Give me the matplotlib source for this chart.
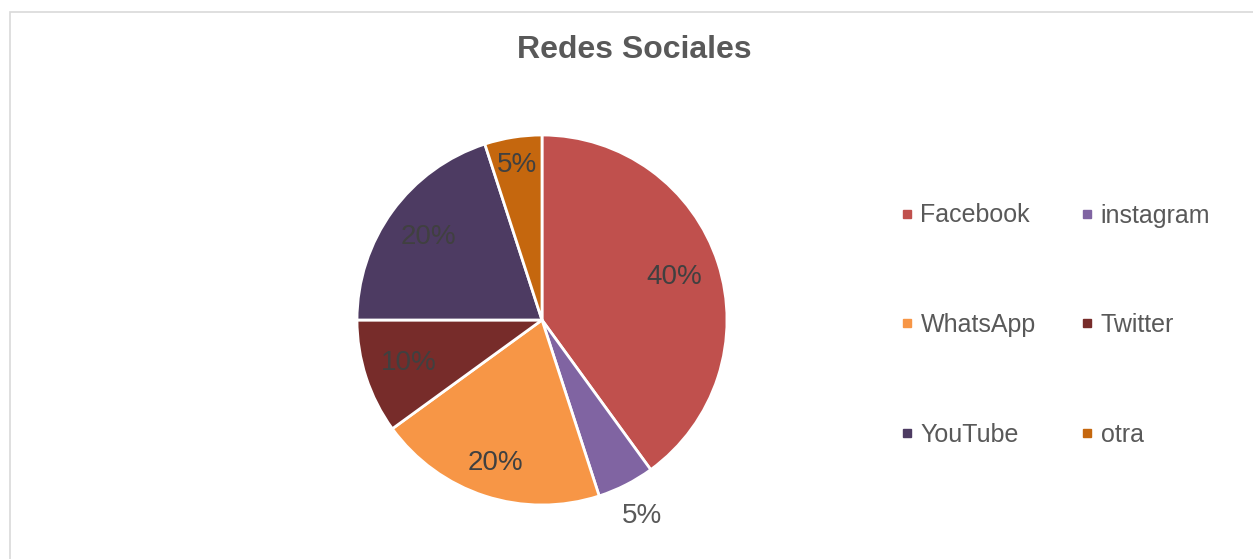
import numpy as np
import matplotlib.pyplot as plt
from matplotlib.lines import Line2D
from matplotlib.patches import Rectangle

plt.rcParams['font.family'] = ['Liberation Sans', 'DejaVu Sans']

# datos
redes = ['Facebook', 'instagram', 'WhatsApp', 'Twitter', 'YouTube', 'otra']
porcentajes = [40, 5, 20, 10, 20, 5]
colores = ['#C0504D', '#8064A2', '#F79646', '#772C2A', '#4D3B62', '#C5670E']

W, H = 1253, 559
fig = plt.figure(figsize=(W / 100, H / 100), dpi=100)

# marco del grafico
fig.patches.append(Rectangle((10 / W, -0.05), 1.05, 1 - 12 / H + 0.05,
                             transform=fig.transFigure, fill=False,
                             edgecolor='#D9D9D9', linewidth=1.2))

fig.text(634 / W, 1 - 50 / H, 'Redes Sociales', ha='center', va='center',
         fontsize=23, fontweight='bold', color='#595959')

# pie: centro (542, 320), radio 185 px
cx, cy, r, half = 542, 320, 185, 235
ax = fig.add_axes([(cx - half) / W, (H - cy - half) / H, 2 * half / W, 2 * half / H])
lim = half / r

wedges, texts, autotexts = ax.pie(
    porcentajes, colors=colores, startangle=90, counterclock=False,
    autopct='%1.0f%%', pctdistance=0.78,
    wedgeprops=dict(edgecolor='white', linewidth=2),
    textprops=dict(fontsize=20, color='#404040'), radius=1, frame=True)
ax.set_xlim(-lim, lim)
ax.set_ylim(-lim, lim)
ax.set_aspect('equal')
ax.axis('off')

# distancia de cada etiqueta al centro (instagram va fuera)
dist = [0.75, 1.19, 0.81, 0.76, 0.76, 0.85]
for w, t, d in zip(wedges, autotexts, dist):
    ang = np.deg2rad((w.theta1 + w.theta2) / 2)
    t.set_position((d * np.cos(ang), d * np.sin(ang)))
autotexts[1].set_color('#595959')

# leyenda por filas (matplotlib llena por columnas)
orden = [0, 2, 4, 1, 3, 5]
handles = [Line2D([], [], marker='s', linestyle='', markersize=5.5,
                  markerfacecolor=colores[i], markeredgecolor=colores[i]) for i in orden]
fig.legend(handles, [redes[i] for i in orden], ncol=2, loc='center left',
           bbox_to_anchor=(878 / W, 1 - 325 / H), frameon=False,
           fontsize=18, labelcolor='#595959', labelspacing=3.42,
           handlelength=0.5, handletextpad=0.3, columnspacing=1.8)

fig.savefig('out.png', dpi=100)
